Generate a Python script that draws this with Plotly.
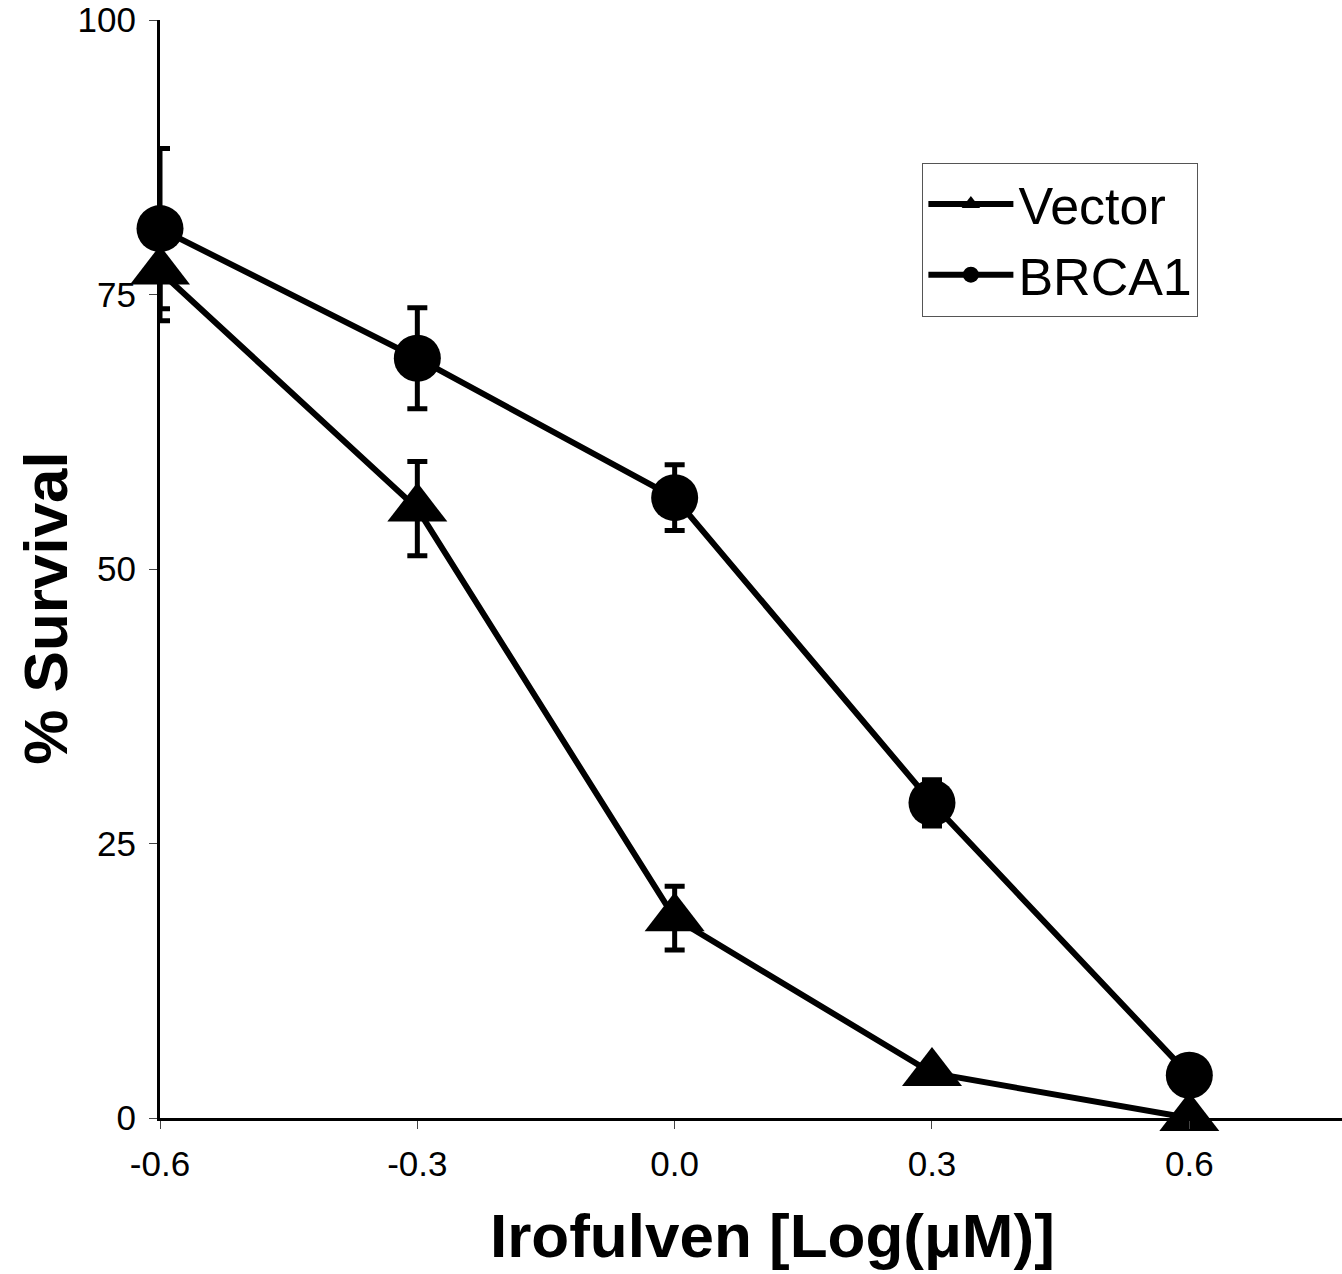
import plotly.graph_objects as go

# ---- data ----
log_dose = [-0.6, -0.3, 0.0, 0.3, 0.6]
vector_survival = [77.1, 55.5, 18.2, 4.1, 0.0]
vector_err = [4.5, 4.3, 2.9, 0.8, 0.0]
brca1_survival = [81.0, 69.2, 56.5, 28.7, 3.9]
brca1_err = [7.3, 4.6, 3.0, 2.1, 0.5]

x_tickvals = [-0.6, -0.3, 0.0, 0.3, 0.6]
x_ticktext = ["-0.6", "-0.3", "0.0", "0.3", "0.6"]
y_tickvals = [0, 25, 50, 75, 100]
y_ticktext = ["0", "25", "50", "75", "100"]

FONT = "Arial, Liberation Sans, sans-serif"

fig = go.Figure()

fig.add_trace(go.Scatter(
    x=log_dose, y=vector_survival, name="Vector",
    mode="lines+markers",
    line=dict(color="black", width=6),
    marker=dict(symbol="triangle-up", size=52, color="black"),
    error_y=dict(type="data", array=vector_err, visible=True,
                 color="black", thickness=5, width=10),
    cliponaxis=False,
))

fig.add_trace(go.Scatter(
    x=log_dose, y=brca1_survival, name="BRCA1",
    mode="lines+markers",
    line=dict(color="black", width=6),
    marker=dict(symbol="circle", size=47, color="black"),
    error_y=dict(type="data", array=brca1_err, visible=True,
                 color="black", thickness=5, width=10),
    cliponaxis=False,
))

fig.update_layout(
    width=1342, height=1274,
    margin=dict(l=160, r=0, t=20, b=156),
    plot_bgcolor="white", paper_bgcolor="white",
    font=dict(family=FONT, color="black"),
    showlegend=True,
    legend=dict(
        x=0.645, y=0.87, xanchor="left", yanchor="top",
        bordercolor="#555555", borderwidth=1, bgcolor="white",
        font=dict(size=52, family=FONT),
        itemsizing="trace", itemwidth=85, tracegroupgap=0,
    ),
    xaxis=dict(
        range=[-0.6, 0.778], showgrid=False, zeroline=False,
        showline=True, linecolor="black", linewidth=3,
        tickmode="array", tickvals=x_tickvals, ticktext=x_ticktext,
        ticks="outside", ticklen=8, tickwidth=1, tickcolor="#444444",
        tickfont=dict(size=35, family=FONT),
        ticklabelstandoff=5,
    ),
    yaxis=dict(
        range=[0, 100], showgrid=False, zeroline=False,
        showline=True, linecolor="black", linewidth=3,
        tickmode="array", tickvals=y_tickvals, ticktext=y_ticktext,
        ticks="outside", ticklen=8, tickwidth=1, tickcolor="#444444",
        tickfont=dict(size=35, family=FONT),
        ticklabelstandoff=6,
    ),
    annotations=[
        dict(text="<b>Irofulven [Log(\u03bcM)]</b>", xref="paper", yref="paper",
             x=0.518, y=-0.1066, xanchor="center", yanchor="middle",
             showarrow=False, font=dict(size=62, family=FONT)),
        dict(text="<b>% Survival</b>", xref="paper", yref="paper",
             x=-0.097, y=0.465, xanchor="center", yanchor="middle",
             textangle=-90, showarrow=False, font=dict(size=62, family=FONT)),
    ],
)

fig.write_html("out.html", config={"displayModeBar": False},
               post_script="document.body.style.margin='0';document.body.style.overflow='hidden';")
